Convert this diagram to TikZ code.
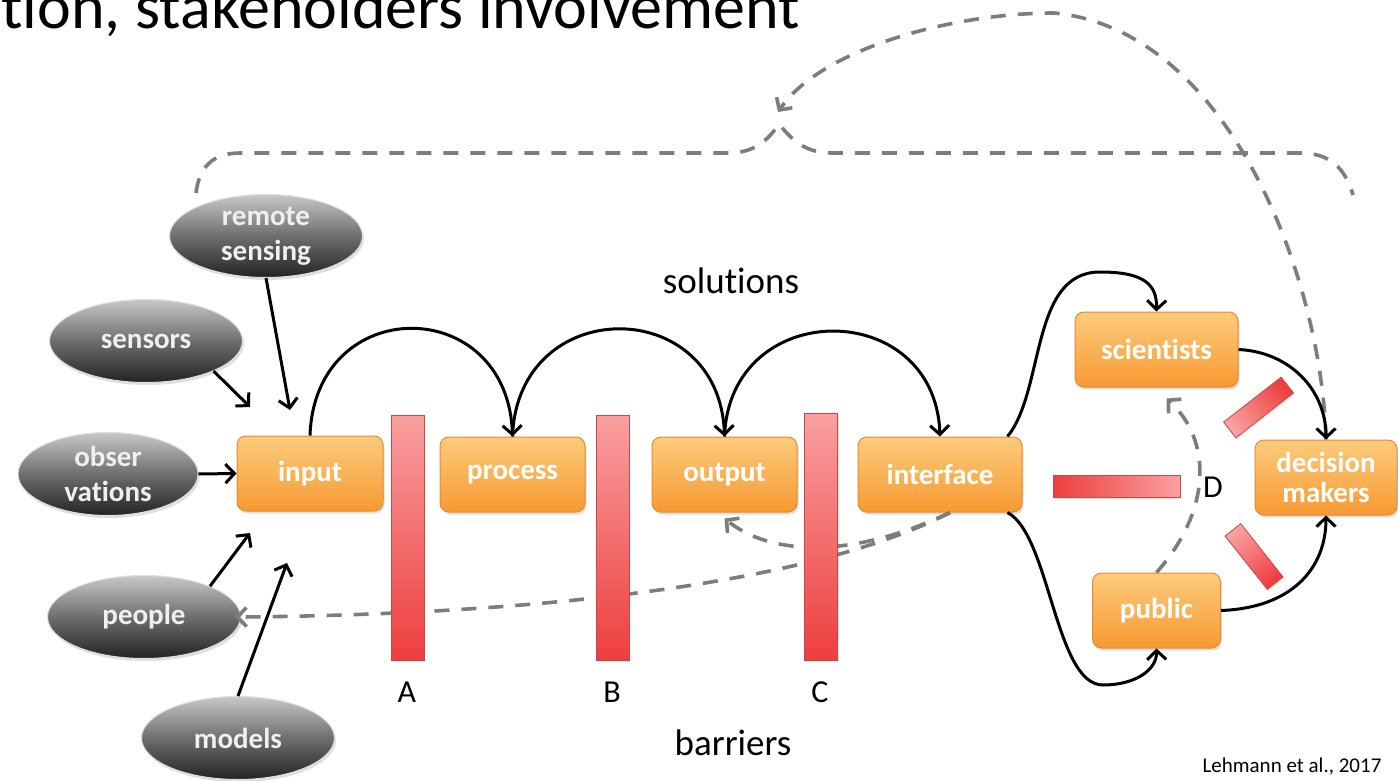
\documentclass[tikz,border=0pt]{standalone}
\usepackage{fontspec}
\setmainfont{Carlito}[Ligatures=CommonOff]
\usetikzlibrary{arrows.meta,shapes.geometric,shadows,calc}

\definecolor{boxtop}{RGB}{252,203,125}
\definecolor{boxbot}{RGB}{247,154,50}
\definecolor{boxline}{RGB}{230,140,48}
\definecolor{elltop}{RGB}{200,200,200}
\definecolor{ellmid}{RGB}{110,110,110}
\definecolor{ellbot}{RGB}{35,35,35}
\definecolor{barred}{RGB}{238,62,62}
\definecolor{barpink}{RGB}{249,160,160}
\definecolor{barline}{RGB}{200,72,72}
\definecolor{dashgray}{RGB}{125,125,125}

\tikzset{
  stepbox/.style={rectangle, rounded corners=9pt, minimum width=#1, minimum height=75pt,
    top color=boxtop, bottom color=boxbot, draw=boxline, line width=1pt,
    text=white, font=\bfseries\fontsize{29}{30}\selectfont, align=center, inner sep=0pt,
    drop shadow={opacity=0.25, shadow xshift=1.5pt, shadow yshift=-2.5pt}},
  stepbox/.default=145pt,
  source/.style={ellipse, minimum width=#1, minimum height=83pt, inner sep=-14pt,
    top color=elltop, bottom color=ellbot, middle color=ellmid,
    draw=white!75!gray, line width=1pt,
    text=white!94!black, font=\bfseries\fontsize{29}{35}\selectfont, align=center,
    drop shadow={opacity=0.25, shadow xshift=1.5pt, shadow yshift=-2.5pt}},
  source/.default=193pt,
  barrier/.style={rectangle, inner sep=0pt, draw=barline, line width=0.8pt, minimum height=#1,
    drop shadow={opacity=0.2, shadow xshift=1pt, shadow yshift=-1.5pt}},
  barrier/.default=33pt,
  link/.style={draw=black, line width=3pt, -{Straight Barb[length=9pt,width=19pt]}},
  feedback/.style={draw=dashgray, line width=3.6pt, dash pattern=on 15pt off 12pt},
  fbarrow/.style={feedback, -{Straight Barb[length=9pt,width=19pt]}},
  caption/.style={font=\fontsize{37}{40}\selectfont, text=black},
  letter/.style={font=\fontsize{32}{34}\selectfont, text=black}
}

\begin{document}
\begin{tikzpicture}[x=1pt,y=-1pt]
\clip (0,0) rectangle (1398,781);
\fill[white] (0,0) rectangle (1398,781);

% heading (lower part of the slide title)
\node[anchor=base east, font=\fontsize{64}{70}\selectfont, inner sep=0pt] (heading) at (800,29) {tion, stakeholders involvement};

% data sources
\node[source] (remote) at (266,236) {remote\\sensing};
\node[source] (sensors) at (146,341) {sensors};
\node[source=180pt] (obs) at (108,474) {obser\\vations};
\node[source] (people) at (144,617) {people};
\node[source] (models) at (238,738) {models};

% labels
\node[caption] (solutions) at (731,281) {solutions};
\node[caption] (barriers) at (733,743) {barriers};
\node[font=\fontsize{21}{24}\selectfont] (ref) at (1292,767) {Lehmann et al., 2017};

% feedback loops (dashed)
\coordinate (fbL) at (196,193);
\coordinate (fbR) at (1353,195);
\coordinate (junction) at (779,124);
\coordinate (tipTop) at (778,112);
\draw[feedback] (fbL) .. controls (199,168) and (212,153) .. (240,153) -- (728,153)
  .. controls (755,153) and (768,140) .. (junction)
  .. controls (792,140) and (805,153) .. (832,153) -- (1300,153)
  .. controls (1330,153) and (1345,168) .. (fbR);

% process chain
\node[stepbox=146pt] (input) at (310,473.5) {input};
\node[stepbox] (process) at (512.5,474.5) {process};
\node[stepbox] (output) at (724.5,474.5) {output};
\node[stepbox=164pt] (interface) at (940,474.5) {interface};
\node[stepbox=163pt] (scientists) at (1156.5,349.5) {scientists};
\node[stepbox=142pt] (dm) at (1326,477.5) {decision\\makers};
\node[stepbox=128pt] (public) at (1156.5,610.5) {public};

\draw[fbarrow] (dm.north) .. controls (1322,280) and (1230,30) .. (1054,13)
  .. controls (950,13) and (820,50) .. (tipTop);

\draw[fbarrow] ([xshift=10pt]interface.south) .. controls (850,560) and (770,555) .. ([yshift=-6pt]output.south);
\draw[fbarrow, shorten >=-6pt] ([xshift=10pt]interface.south) .. controls (800,590) and (500,615) .. (people.east);
\draw[fbarrow] (public.north) .. controls (1212,510) and (1212,440) .. ([xshift=10pt,yshift=-11pt]scientists.south);

% barriers
\node[barrier, minimum width=33pt, minimum height=245pt, top color=barpink, bottom color=barred] (barA) at (407.5,537.5) {};
\node[barrier, minimum width=33pt, minimum height=245pt, top color=barpink, bottom color=barred] (barB) at (612.5,537.5) {};
\node[barrier, minimum width=33pt, minimum height=247pt, top color=barpink, bottom color=barred] (barC) at (821,536.5) {};
\node[barrier=22pt, minimum width=127pt, left color=barred, right color=barpink] (barD1) at (1116.5,486) {};
\node[barrier=20pt, minimum width=73pt, rotate=38, top color=barred, bottom color=barpink, shading angle=-52] (barD2) at (1258.5,407.5) {};
\node[barrier=20pt, minimum width=68pt, rotate=-51.6, top color=barpink, bottom color=barred, shading angle=38.4] (barD3) at (1254,556.5) {};

\node[letter] (lA) at (407,692) {A};
\node[letter] (lB) at (612,692) {B};
\node[letter] (lC) at (820,692) {C};
\node[letter] (lD) at (1213,487) {D};

% inputs to the chain
\coordinate (inRS) at (290,410);
\coordinate (inS) at (250,407);
\coordinate (inP) at (250,533);
\coordinate (inM) at (287,563);
\draw[link] (remote.south) -- (inRS);
\draw[link] (sensors.-24) -- (inS);
\draw[link] (obs.east) -- (input.west);
\draw[link] (people.25) -- (inP);
\draw[link] (models.north) -- (inM);

% solutions bridging the barriers
\draw[link] (input.north) .. controls +(5,-143) and +(-5,-143) .. (process.north);
\draw[link] (process.north) .. controls +(5,-143) and +(-5,-143) .. (output.north);
\draw[link] (output.north) .. controls +(5,-140) and +(-5,-140) .. (interface.north);

\draw[link] ([xshift=-15pt]interface.north east) .. controls (1045,390) and (1030,272) .. (1100,272)
  .. controls (1145,272) and (1157,285) .. (scientists.north);
\draw[link] ([xshift=-15pt]interface.south east) .. controls (1050,535) and (1055,685) .. (1103,685)
  .. controls (1135,685) and (1157,670) .. (public.south);
\draw[link] (scientists.east) .. controls (1290,352) and (1326,390) .. (dm.north);
\draw[link] (public.east) .. controls (1290,608) and (1326,570) .. (dm.south);
\end{tikzpicture}
\end{document}
